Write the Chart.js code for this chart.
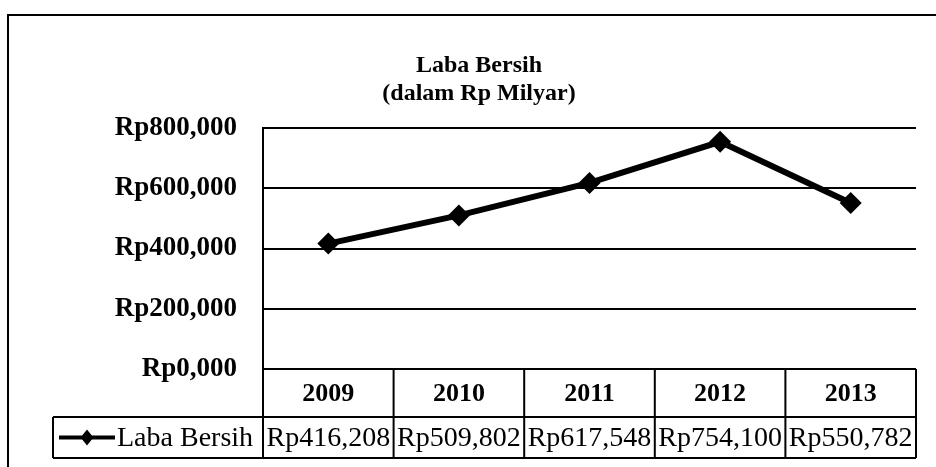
<!DOCTYPE html>
<html>
<head>
<meta charset="utf-8">
<script src="https://cdn.jsdelivr.net/npm/chart.js@4/dist/chart.umd.min.js"></script>
<style>
  html, body { margin: 0; padding: 0; background: #fff; }
  #wrap { width: 936px; height: 467px; position: relative; }
</style>
</head>
<body>
<div id="wrap"><canvas id="c" width="936" height="467"></canvas></div>
<script>
// data (Rp Milyar, comma = decimal sign)
const categories = ['2009', '2010', '2011', '2012', '2013'];
const labaBersih = [416.208, 509.802, 617.548, 754.100, 550.782];
const yTicks = [0, 200, 400, 600, 800];
const titleLines = ['Laba Bersih', '(dalam Rp Milyar)'];
const seriesLabel = 'Laba Bersih';

const SERIF = '"Liberation Serif", "Times New Roman", serif';

function rp(v) {
  return 'Rp' + Number(v).toFixed(3).replace('.', ',');
}

// title, frame and the data table under the plot
const tablePlugin = {
  id: 'tableAndTitle',
  afterDraw(chart) {
    const ctx = chart.ctx;
    const ca = chart.chartArea;
    const x = chart.scales.x;
    ctx.save();
    ctx.strokeStyle = '#000';
    ctx.fillStyle = '#000';

    // outer frame (only top and left edges are inside the picture)
    ctx.lineWidth = 2;
    ctx.beginPath();
    ctx.moveTo(8, 467); ctx.lineTo(8, 15); ctx.lineTo(936, 15);
    ctx.stroke();

    // title
    ctx.textAlign = 'center';
    ctx.textBaseline = 'middle';
    ctx.font = 'bold 24px ' + SERIF;
    ctx.fillText(titleLines[0], 479, 66);
    ctx.fillText(titleLines[1], 479, 94);

    // cell boundaries from the category scale
    const bounds = [ca.left];
    for (let i = 1; i < categories.length; i++) {
      bounds.push((x.getPixelForValue(i - 1) + x.getPixelForValue(i)) / 2);
    }
    bounds.push(ca.right);

    const r0 = ca.bottom, r1 = r0 + 48, r2 = r1 + 41;
    const legLeft = 53;

    ctx.lineWidth = 2;
    ctx.beginPath();
    ctx.moveTo(ca.left, r0); ctx.lineTo(ca.right, r0);
    ctx.moveTo(legLeft, r1); ctx.lineTo(ca.right, r1);
    ctx.moveTo(legLeft, r2); ctx.lineTo(ca.right, r2);
    ctx.moveTo(legLeft, r1); ctx.lineTo(legLeft, r2);
    bounds.forEach(b => { ctx.moveTo(b, r0); ctx.lineTo(b, r2); });
    ctx.stroke();

    // year row
    ctx.font = 'bold 26px ' + SERIF;
    categories.forEach((c, i) => {
      ctx.fillText(c, (bounds[i] + bounds[i + 1]) / 2, (r0 + r1) / 2 + 1);
    });

    // value row
    ctx.font = '28px ' + SERIF;
    labaBersih.forEach((v, i) => {
      ctx.fillText(rp(v), (bounds[i] + bounds[i + 1]) / 2, (r1 + r2) / 2 + 1);
    });

    // legend key
    const my = (r1 + r2) / 2;
    ctx.lineWidth = 4;
    ctx.beginPath();
    ctx.moveTo(legLeft + 6, my); ctx.lineTo(legLeft + 62, my);
    ctx.stroke();
    const dx = legLeft + 34, dr = 8;
    ctx.beginPath();
    ctx.moveTo(dx, my - dr); ctx.lineTo(dx + dr * 0.8, my);
    ctx.lineTo(dx, my + dr); ctx.lineTo(dx - dr * 0.8, my);
    ctx.closePath();
    ctx.fill();
    ctx.textAlign = 'left';
    ctx.font = '28px ' + SERIF;
    ctx.fillText(seriesLabel, legLeft + 64, my + 1);

    ctx.restore();
  }
};

new Chart(document.getElementById('c'), {
  type: 'line',
  data: {
    labels: categories,
    datasets: [{
      label: seriesLabel,
      data: labaBersih,
      borderColor: '#000',
      backgroundColor: '#000',
      borderWidth: 6,
      tension: 0,
      pointStyle: 'rectRot',
      pointRadius: 11,
      pointBorderWidth: 0,
      pointBackgroundColor: '#000',
      fill: false,
    }],
  },
  options: {
    responsive: false,
    animation: false,
    devicePixelRatio: 1,
    layout: { padding: { top: 128, right: 20, left: 0, bottom: 0 } },
    plugins: {
      legend: { display: false },
      tooltip: { enabled: false },
      title: { display: false },
    },
    scales: {
      x: {
        type: 'category',
        offset: true,
        grid: { display: false },
        border: { display: false },
        ticks: { display: false },
        afterFit: (s) => { s.height = 98; },
      },
      y: {
        min: yTicks[0],
        max: yTicks[yTicks.length - 1],
        afterBuildTicks: (s) => { s.ticks = yTicks.map(v => ({ value: v })); },
        ticks: {
          callback: (v) => rp(v),
          color: '#000',
          padding: 26,
          font: { family: SERIF, size: 27, weight: 'bold' },
        },
        grid: { color: '#000', lineWidth: 2, drawTicks: false },
        border: { display: true, color: '#000', width: 2 },
        afterFit: (s) => { s.width = 263; },
      },
    },
  },
  plugins: [tablePlugin],
});
</script>
</body>
</html>
